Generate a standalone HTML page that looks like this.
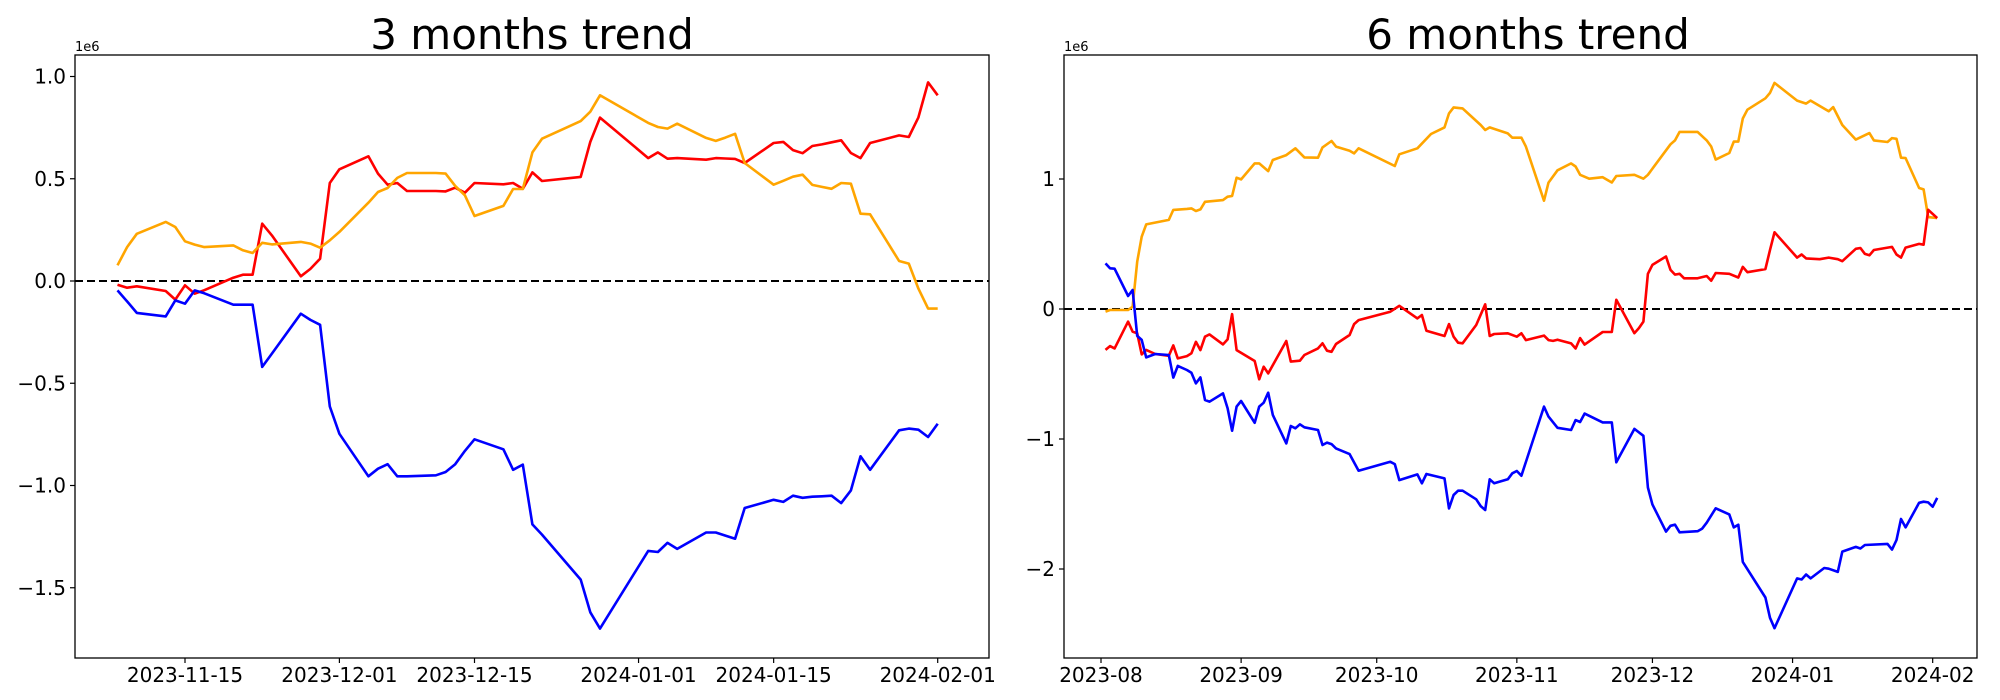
<!DOCTYPE html>
<html><head><meta charset="utf-8"><style>
html,body{margin:0;padding:0;background:#fff;}
svg{display:block;font-family:"DejaVu Sans","Liberation Sans",sans-serif;}
</style></head>
<body>
<svg id="fig" width="2000" height="700" viewBox="0 0 2000 700" xmlns="http://www.w3.org/2000/svg">
<rect width="2000" height="700" fill="#fff"/>
<g id="left"></g>
<g id="right"></g>
</svg>
<script>
// ---------- 3 months chart data (day offsets from 2023-11-15, values in 1e6) ----------
const leftDays = [-7,-6,-5,-2,-1,0,1,2,5,6,7,8,9,12,13,14,15,16,19,20,21,22,23,26,27,28,29,30,33,34,35,36,37,41,42,43,48,49,50,51,54,55,56,57,58,61,62,63,64,65,66,67,68,69,70,71,74,75,76,77,78];
const leftRed = [-0.018,-0.033,-0.026,-0.049,-0.091,-0.021,-0.062,-0.045,0.016,0.031,0.031,0.28,0.223,0.023,0.059,0.109,0.479,0.546,0.61,0.525,0.471,0.479,0.44,0.44,0.438,0.456,0.432,0.479,0.473,0.479,0.451,0.531,0.489,0.509,0.68,0.799,0.601,0.629,0.598,0.601,0.593,0.601,0.599,0.597,0.577,0.675,0.68,0.64,0.625,0.66,0.668,0.678,0.688,0.626,0.601,0.675,0.712,0.704,0.80,0.971,0.908];
const leftOrange = [0.077,0.166,0.231,0.289,0.264,0.194,0.178,0.166,0.174,0.15,0.137,0.187,0.179,0.191,0.183,0.163,0.199,0.24,0.383,0.435,0.455,0.504,0.528,0.528,0.525,0.465,0.419,0.318,0.367,0.45,0.45,0.629,0.696,0.782,0.828,0.908,0.773,0.753,0.745,0.769,0.70,0.685,0.701,0.72,0.577,0.471,0.49,0.51,0.52,0.47,0.46,0.451,0.479,0.476,0.329,0.326,0.098,0.085,-0.037,-0.135,-0.135];
const leftBlue = [-0.046,-0.10,-0.156,-0.173,-0.095,-0.111,-0.046,-0.06,-0.116,-0.116,-0.116,-0.42,-0.355,-0.16,-0.19,-0.214,-0.613,-0.747,-0.955,-0.918,-0.896,-0.955,-0.955,-0.95,-0.934,-0.896,-0.831,-0.774,-0.823,-0.923,-0.898,-1.19,-1.24,-1.46,-1.62,-1.70,-1.32,-1.325,-1.28,-1.31,-1.23,-1.23,-1.245,-1.26,-1.11,-1.07,-1.08,-1.05,-1.06,-1.055,-1.053,-1.05,-1.086,-1.024,-0.857,-0.923,-0.730,-0.722,-0.727,-0.763,-0.698];
const leftTickDays = [0,16,30,47,61,78];
const leftTickLabels = ["2023-11-15","2023-12-01","2023-12-15","2024-01-01","2024-01-15","2024-02-01"];
const leftYTicks = [1.0,0.5,0.0,-0.5,-1.0,-1.5];
const leftYLabels = ["1.0","0.5","0.0","\u22120.5","\u22121.0","\u22121.5"];

// ---------- 6 months chart data (day offsets from 2023-08-01) ----------
const rOrangeDays = [1,2,6,7,8,9,10,15,16,19,20,21,22,23,27,28,29,30,31,34,35,37,38,41,43,45,48,49,51,52,55,56,57,65,66,70,73,76,77,78,80,84,85,86,90,91,93,94,98,99,101,104,105,106,108,111,113,114,118,120,121,126,127,128,132,134,135,136,139,140,141,142,143,147,148,149,154,156,157,161,162,164,167,170,171,174,175,176,177,178,181,182,183,185];
const rOrange = [-0.02,-0.008,-0.008,0.018,0.364,0.556,0.651,0.685,0.762,0.77,0.774,0.754,0.766,0.825,0.838,0.864,0.869,1.01,0.997,1.12,1.12,1.061,1.146,1.184,1.236,1.166,1.164,1.243,1.292,1.249,1.218,1.197,1.236,1.1,1.19,1.236,1.346,1.397,1.505,1.551,1.543,1.415,1.377,1.397,1.351,1.318,1.318,1.249,0.833,0.972,1.067,1.12,1.096,1.032,1.002,1.014,0.973,1.023,1.032,1.002,1.032,1.267,1.297,1.362,1.362,1.297,1.25,1.149,1.2,1.288,1.288,1.465,1.533,1.621,1.662,1.739,1.603,1.58,1.603,1.521,1.553,1.415,1.303,1.353,1.297,1.285,1.315,1.309,1.164,1.161,0.931,0.92,0.707,0.699];
const rRedDays = [1,2,3,6,7,8,9,10,12,15,16,17,19,20,21,22,23,24,27,28,29,30,34,35,36,37,41,42,44,45,48,49,50,51,52,55,56,57,64,66,70,71,72,76,77,78,79,80,83,85,86,87,90,92,93,94,98,99,100,101,104,105,106,107,111,113,114,118,119,120,121,122,125,126,127,128,129,132,134,135,136,139,141,142,143,147,148,149,154,155,156,159,161,163,164,167,168,169,170,171,175,176,177,178,181,182,183,185];
const rRed = [-0.315,-0.285,-0.303,-0.097,-0.174,-0.187,-0.349,-0.315,-0.346,-0.36,-0.28,-0.38,-0.362,-0.341,-0.252,-0.316,-0.213,-0.195,-0.272,-0.234,-0.039,-0.316,-0.4,-0.541,-0.444,-0.495,-0.246,-0.405,-0.398,-0.354,-0.303,-0.264,-0.321,-0.329,-0.269,-0.2,-0.116,-0.085,-0.021,0.025,-0.072,-0.046,-0.167,-0.208,-0.116,-0.213,-0.259,-0.264,-0.123,0.036,-0.208,-0.192,-0.187,-0.213,-0.187,-0.239,-0.205,-0.239,-0.245,-0.236,-0.265,-0.304,-0.224,-0.274,-0.177,-0.177,0.071,-0.186,-0.147,-0.097,0.271,0.339,0.404,0.301,0.265,0.271,0.236,0.236,0.254,0.218,0.277,0.271,0.242,0.324,0.283,0.307,0.454,0.59,0.395,0.419,0.389,0.383,0.395,0.383,0.368,0.463,0.469,0.424,0.413,0.454,0.478,0.419,0.395,0.472,0.501,0.495,0.763,0.699];
const rBlueDays = [1,2,3,6,7,8,9,10,12,15,16,17,19,20,21,22,23,24,27,28,29,30,31,34,35,36,37,38,41,42,43,44,45,48,49,50,51,52,55,57,64,65,66,70,71,72,76,77,78,79,80,83,84,85,86,87,90,91,92,93,98,99,101,104,105,106,107,111,113,114,118,120,121,122,125,126,127,128,132,133,134,136,139,140,141,142,147,148,149,154,155,156,157,160,161,163,164,167,168,169,174,175,176,177,178,181,182,183,184,185];
const rBlue = [0.351,0.313,0.31,0.1,0.146,-0.207,-0.238,-0.372,-0.346,-0.354,-0.528,-0.438,-0.469,-0.49,-0.572,-0.526,-0.7,-0.713,-0.649,-0.764,-0.936,-0.751,-0.708,-0.875,-0.751,-0.721,-0.644,-0.815,-1.034,-0.9,-0.918,-0.887,-0.91,-0.931,-1.046,-1.028,-1.039,-1.072,-1.116,-1.244,-1.175,-1.193,-1.316,-1.272,-1.341,-1.269,-1.303,-1.534,-1.431,-1.398,-1.398,-1.464,-1.516,-1.546,-1.31,-1.341,-1.31,-1.264,-1.246,-1.282,-0.751,-0.828,-0.914,-0.931,-0.855,-0.869,-0.805,-0.872,-0.872,-1.179,-0.922,-0.975,-1.373,-1.503,-1.712,-1.668,-1.659,-1.718,-1.709,-1.689,-1.644,-1.533,-1.58,-1.68,-1.659,-1.945,-2.219,-2.375,-2.455,-2.072,-2.081,-2.042,-2.072,-1.992,-1.998,-2.022,-1.866,-1.83,-1.842,-1.815,-1.807,-1.851,-1.777,-1.615,-1.68,-1.491,-1.482,-1.488,-1.521,-1.453];
const rightTickDays = [0,31,61,92,122,153,184];
const rightTickLabels = ["2023-08","2023-09","2023-10","2023-11","2023-12","2024-01","2024-02"];
const rightYTicks = [1,0,-1,-2];
const rightYLabels = ["1","0","\u22121","\u22122"];

const NS = "http://www.w3.org/2000/svg";
function mk(parent, tag, attrs) {
  const e = document.createElementNS(NS, tag);
  for (const k in attrs) e.setAttribute(k, attrs[k]);
  parent.appendChild(e);
  return e;
}

function drawChart(g, cfg) {
  const X = d => cfg.x0 + d * cfg.xs;
  const Y = v => cfg.y0 - v * cfg.ys;
  // title
  const t = mk(g, "text", {x: cfg.titleX, y: 49, "font-size": 42, "text-anchor": "middle", fill: "#000"});
  t.textContent = cfg.title;
  
  
  // exponent label
  const ex = mk(g, "text", {x: cfg.left, y: 51, "font-size": 13, fill: "#000"});
  ex.textContent = "1e6";
  
  
  // zero dashed line
  const z = mk(g, "line", {x1: cfg.left, x2: cfg.right, y1: Y(0), y2: Y(0), stroke: "#000", "stroke-width": 2, "stroke-dasharray": "8,4"});
  
  
  // series
  cfg.series.forEach(s => {
    const pts = s.days.map((d, i) => X(d).toFixed(1) + "," + Y(s.vals[i]).toFixed(1)).join(" ");
    const p = mk(g, "polyline", {points: pts, fill: "none", stroke: s.color, "stroke-width": 2.6, "stroke-linejoin": "round"});
    
    
  });
  // frame
  const fr = mk(g, "rect", {x: cfg.left, y: cfg.top, width: cfg.right - cfg.left, height: cfg.bottom - cfg.top, fill: "none", stroke: "#000", "stroke-width": 1.3});
  
  
  // x ticks
  cfg.xTicks.forEach((d, i) => {
    const tk = mk(g, "line", {x1: X(d), x2: X(d), y1: cfg.bottom, y2: cfg.bottom + 5, stroke: "#000", "stroke-width": 1.2});
    
    
    const lb = mk(g, "text", {x: X(d), y: cfg.bottom + 24, "font-size": 20, "text-anchor": "middle", fill: "#000"});
    lb.textContent = cfg.xLabels[i];
    
    
  });
  // y ticks
  cfg.yTicks.forEach((v, i) => {
    const tk = mk(g, "line", {x1: cfg.left - 5, x2: cfg.left, y1: Y(v), y2: Y(v), stroke: "#000", "stroke-width": 1.2});
    
    
    const lb = mk(g, "text", {x: cfg.left - 9, y: Y(v) + 7, "font-size": 20, "text-anchor": "end", fill: "#000"});
    lb.textContent = cfg.yLabels[i];
    
    
  });
}

drawChart(document.getElementById("left"), {
  title: "3 months trend", titleX: 532,
  left: 75, right: 989, top: 55, bottom: 658,
  x0: 185, xs: 9.65, y0: 281, ys: 204.5,
  xTicks: leftTickDays, xLabels: leftTickLabels,
  yTicks: leftYTicks, yLabels: leftYLabels,
  series: [
    {days: leftDays, vals: leftRed, color: "#ff0000", name: "red-series-line"},
    {days: leftDays, vals: leftOrange, color: "#ffa500", name: "orange-series-line"},
    {days: leftDays, vals: leftBlue, color: "#0000ff", name: "blue-series-line"}
  ]
});

drawChart(document.getElementById("right"), {
  title: "6 months trend", titleX: 1528,
  left: 1064, right: 1977, top: 55, bottom: 658,
  x0: 1101, xs: 4.52, y0: 309, ys: 130,
  xTicks: rightTickDays, xLabels: rightTickLabels,
  yTicks: rightYTicks, yLabels: rightYLabels,
  series: [
    {days: rOrangeDays, vals: rOrange, color: "#ffa500", name: "orange-series-line"},
    {days: rRedDays, vals: rRed, color: "#ff0000", name: "red-series-line"},
    {days: rBlueDays, vals: rBlue, color: "#0000ff", name: "blue-series-line"}
  ]
});
</script>
</body></html>
